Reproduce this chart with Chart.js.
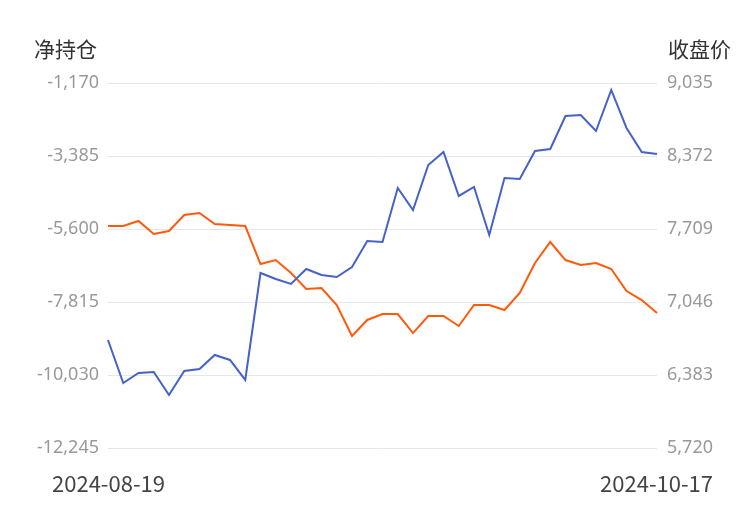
<!DOCTYPE html>
<html><head><meta charset="utf-8">
<script src="https://cdn.jsdelivr.net/npm/chart.js@4"></script>
<style>
body{margin:0;background:#fff;font-family:"Noto Sans CJK SC","Noto Sans",sans-serif;}
#wrap{position:relative;width:750px;height:510px;}
.t{position:absolute;font-size:21px;color:#333;}
.d{position:absolute;font-size:22px;color:#444;top:466px;}
</style></head><body>
<div id="wrap">
<canvas id="c" width="750" height="510"></canvas>
<div class="t" style="left:34px;top:33px;">净持仓</div>
<div class="t" style="right:19px;top:33px;">收盘价</div>
<div class="d" style="left:52px;">2024-08-19</div>
<div class="d" style="right:37px;">2024-10-17</div>
</div>
<script>
const startDate = "2024-08-19", endDate = "2024-10-17";
const categories = Array.from({length:37},(_,i)=>"D"+(i+1));
const netPosition = [-8967,-10272,-9969,-9939,-10636,-9908,-9847,-9422,-9574,-10181,-6935,-7117,-7268,-6813,-6995,-7056,-6753,-5964,-5994,-4356,-5023,-3658,-3263,-4598,-4325,-5782,-4052,-4083,-3233,-3172,-2171,-2141,-2626,-1382,-2535,-3263,-3324];
const closePrice = [7736,7736,7782,7664,7691,7836,7854,7754,7745,7736,7391,7427,7309,7164,7173,7019,6737,6883,6937,6937,6764,6919,6919,6828,7019,7019,6973,7128,7400,7591,7427,7382,7400,7346,7146,7064,6946];
const leftTicks = [-12245,-10030,-7815,-5600,-3385,-1170];
const rightTicks = [5720,6383,7046,7709,8372,9035];
const fmt = v => v.toLocaleString('en-US');
new Chart(document.getElementById('c'), {
  type:'line',
  data:{labels:categories, datasets:[
    {label:'净持仓', data:netPosition, yAxisID:'y', borderColor:'#4462c8', borderWidth:2, pointRadius:0, tension:0},
    {label:'收盘价', data:closePrice, yAxisID:'y1', borderColor:'#ff5a0a', borderWidth:2, pointRadius:0, tension:0}
  ]},
  options:{
    responsive:false, animation:false,
    layout:{padding:{top:83,bottom:62,left:0,right:0}},
    plugins:{legend:{display:false},tooltip:{enabled:false}},
    scales:{
      x:{display:false, offset:false},
      y:{position:'left', min:leftTicks[0], max:leftTicks[5],
        afterFit:s=>{s.width=108;},
        afterBuildTicks:s=>{s.ticks=leftTicks.map(v=>({value:v}));},
        border:{display:false},
        grid:{color:'#e3e7ef', drawTicks:false},
        ticks:{padding:9, color:'#999', font:{size:18, family:'"Noto Sans","Noto Sans CJK SC"'}, callback:v=>fmt(v)}},
      y1:{position:'right', min:rightTicks[0], max:rightTicks[5],
        afterFit:s=>{s.width=93;},
        afterBuildTicks:s=>{s.ticks=rightTicks.map(v=>({value:v}));},
        border:{display:false},
        grid:{display:false, drawTicks:false},
        ticks:{padding:10, color:'#999', font:{size:18, family:'"Noto Sans","Noto Sans CJK SC"'}, callback:v=>fmt(v)}}
    }
  }
});
</script></body></html>
